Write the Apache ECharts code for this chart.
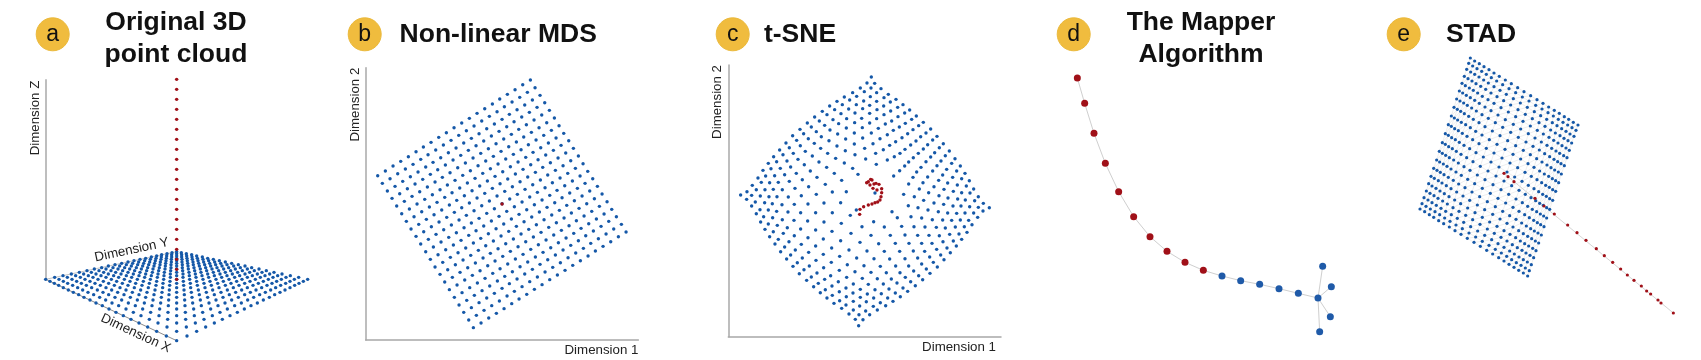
<!DOCTYPE html><html><head><meta charset="utf-8"><style>html,body{margin:0;background:#fff}#c{width:1701px;height:360px}</style>
<script src="https://cdn.jsdelivr.net/npm/echarts@6/dist/echarts.min.js"></script></head><body><div id="c"></div><script>
const aRowY=[755,758,761,764,768,771,775,778,782,786,790,794,798,803,807,812,817,822,827,832,838,844,850,856,863,870,877,884,892,900,909,917,927,937,947,958,969,981,994,1008,1022];
const aRowX=[[530],[516,544],[501,530,559],[485,515,545,575],[470,500,530,560,590],
[454,484,515,545,576,607],[437,468,499,530,561,592,623],[420,451,483,514,546,577,609,640],[402,434,466,498,530,562,594,626,658],
[384,416,449,481,514,546,579,611,644,676],[365,398,431,464,497,530,563,596,629,662,695],[345,379,413,446,480,513,547,580,614,647,681,715],
[325,359,394,428,462,496,530,564,598,632,666,701,735],[305,339,374,409,443,478,513,547,582,617,651,686,721,755],
[283,318,354,389,424,459,495,530,565,601,636,671,706,742,777],[261,297,333,368,404,440,476,512,548,584,620,656,692,727,763,799],
[238,274,311,347,384,420,457,493,530,567,603,640,676,713,749,786,822],[214,251,288,325,363,400,437,474,511,549,586,623,660,697,735,772,809,846],
[189,227,265,303,341,379,417,454,492,530,568,606,643,681,719,757,795,833,871],[164,202,241,279,318,356,395,434,472,511,549,588,626,665,704,742,781,819,858,896],
[137,177,216,255,294,334,373,412,451,491,530,569,609,648,687,726,766,805,844,883,923],[150,190,230,270,310,350,390,430,470,510,550,590,630,670,710,750,790,830,870,910],
[163,203,244,285,326,367,407,448,489,530,571,612,653,693,734,775,816,857,897],[176,218,259,301,343,384,426,468,509,551,592,634,676,717,759,801,842,884],
[190,233,275,318,360,403,445,488,530,572,615,657,700,742,785,827,870],[205,248,292,335,378,422,465,508,552,595,638,682,725,768,812,855],
[220,264,309,353,397,441,486,530,574,619,663,707,751,796,840],[236,281,326,372,417,462,507,553,598,643,688,734,779,824],
[252,299,345,391,437,484,530,576,623,669,715,761,808],[270,317,365,412,459,506,554,601,648,695,743,790],
[288,336,385,433,482,530,578,627,675,724,772],[307,356,406,456,505,555,604,654,704,753],[327,378,428,479,530,581,632,682,733],
[348,400,452,504,556,608,660,712],[370,423,477,530,583,637,690],[393,448,503,557,612,667],[417,474,530,586,643],[443,501,559,617],[470,530,590],[499,561],[530]];
const aRedY=[238,268,298,328,358,388,418,448,478,508,538,568,598,628,658,688,718,748,778,808,838];
const bX=[[36,59,82,105,128,151,173,196,219,242,265,288,311,334,357,380,402,425,448,471,494],
[50,73,96,119,142,165,187,210,233,256,279,302,325,348,371,394,416,439,462,485,508],
[65,88,111,134,157,180,202,225,248,271,294,317,340,363,386,409,431,454,477,500,523],
[79,102,125,148,171,194,216,239,262,285,308,331,354,377,400,423,445,468,491,514,537],
[93,116,139,162,185,208,230,253,276,299,322,345,368,391,414,437,459,482,505,528,551],
[108,131,154,177,200,223,245,268,291,314,337,360,383,406,429,452,474,497,520,543,566],
[122,145,168,191,214,237,259,282,305,328,351,374,397,420,443,466,488,511,534,557,580],
[136,159,182,205,228,251,273,296,319,342,365,388,411,434,457,480,502,525,548,571,594],
[151,174,197,220,243,266,288,311,334,357,380,403,426,449,472,495,517,540,563,586,609],
[165,188,211,234,257,280,302,325,348,371,394,417,440,463,486,509,531,554,577,600,623],
[180,203,226,249,272,295,317,340,363,386,409,432,455,478,501,524,546,569,592,615,638],
[194,217,240,263,286,309,331,354,377,400,423,446,469,492,515,538,560,583,606,629,652],
[208,231,254,277,300,323,345,368,391,414,437,460,483,506,529,552,574,597,620,643,666],
[223,246,269,292,315,338,360,383,406,429,452,475,498,521,544,567,589,612,635,658,681],
[237,260,283,306,329,352,374,397,420,443,466,489,512,535,558,581,603,626,649,672,695],
[251,274,297,320,343,366,388,411,434,457,480,503,526,549,572,595,617,640,663,686,709],
[266,289,312,335,358,381,403,426,449,472,495,518,541,564,587,610,632,655,678,701,724],
[280,303,326,349,372,395,417,440,463,486,509,532,555,578,601,624,646,669,692,715,738],
[294,317,340,363,386,409,431,454,477,500,523,546,569,592,615,638,660,683,706,729,752],
[309,332,355,378,401,424,446,469,492,515,538,561,584,607,630,653,675,698,721,744,767],
[323,346,369,392,415,438,460,483,506,529,552,575,598,621,644,667,689,712,735,758,781]];
const bY=[[493,507,522,536,550,565,579,593,608,622,637,651,665,680,694,708,723,737,751,766,780],
[470,484,499,513,527,542,556,570,585,599,614,628,642,657,671,685,700,714,728,743,757],
[447,461,476,490,504,519,533,547,562,576,591,605,619,634,648,662,677,691,705,720,734],
[425,439,454,468,482,497,511,525,540,554,569,583,597,612,626,640,655,669,683,698,712],
[402,416,431,445,459,474,488,502,517,531,546,560,574,589,603,617,632,646,660,675,689],
[379,393,408,422,436,451,465,479,494,508,523,537,551,566,580,594,609,623,637,652,666],
[356,370,385,399,413,428,442,456,471,485,500,514,528,543,557,571,586,600,614,629,643],
[333,347,362,376,390,405,419,433,448,462,477,491,505,520,534,548,563,577,591,606,620],
[311,325,340,354,368,383,397,411,426,440,455,469,483,498,512,526,541,555,569,584,598],
[288,302,317,331,345,360,374,388,403,417,432,446,460,475,489,503,518,532,546,561,575],
[265,279,294,308,322,337,351,365,380,394,409,423,437,452,466,480,495,509,523,538,552],
[242,256,271,285,299,314,328,342,357,371,386,400,414,429,443,457,472,486,500,515,529],
[219,233,248,262,276,291,305,319,334,348,363,377,391,406,420,434,449,463,477,492,506],
[197,211,226,240,254,269,283,297,312,326,341,355,369,384,398,412,427,441,455,470,484],
[174,188,203,217,231,246,260,274,289,303,318,332,346,361,375,389,404,418,432,447,461],
[151,165,180,194,208,223,237,251,266,280,295,309,323,338,352,366,381,395,409,424,438],
[128,142,157,171,185,200,214,228,243,257,272,286,300,315,329,343,358,372,386,401,415],
[105,119,134,148,162,177,191,205,220,234,249,263,277,292,306,320,335,349,363,378,392],
[83,97,112,126,140,155,169,183,198,212,227,241,255,270,284,298,313,327,341,356,370],
[60,74,89,103,117,132,146,160,175,189,204,218,232,247,261,275,290,304,318,333,347],
[37,51,66,80,94,109,123,137,152,166,181,195,209,224,238,252,267,281,295,310,324]];
const bRed=[[409,408]];
const cX=[[122,141,157,174,189,205,221,239,258,278,300,322,344,367,389,411,433,458,481,501,514],
[140,155,169,184,197,213,230,249,268,290,311,334,358,381,404,427,449,470,493,513,524],
[155,166,181,195,209,224,241,261,280,301,325,349,374,399,423,446,469,491,511,530,543],
[169,180,194,207,220,235,254,272,294,316,343,364,390,416,440,465,488,509,530,552,565],
[182,191,205,217,231,247,268,289,313,337,362,387,413,439,464,485,509,531,551,571,588],
[195,205,218,230,246,265,285,307,331,357,383,411,437,463,487,509,530,552,572,593,609],
[209,220,232,247,264,283,304,326,351,380,407,436,463,488,514,535,556,575,594,614,629],
[225,235,250,262,282,302,324,349,376,403,433,465,494,519,540,562,580,598,616,635,649],
[242,254,267,283,302,323,347,372,397,425,458,497,527,550,569,587,606,623,639,656,670],
[260,272,286,304,324,347,372,397,422,439,474,529,562,583,600,615,632,648,662,678,692],
[279,292,307,326,347,370,396,424,451,469,525,581,599,614,626,640,655,670,683,698,711],
[298,312,328,348,370,395,422,453,486,521,576,611,626,639,650,663,678,692,704,718,730],
[320,334,351,371,394,419,447,480,513,553,592,625,643,658,669,683,698,711,723,736,748],
[341,355,374,392,418,442,470,501,536,571,605,633,654,671,686,702,716,728,740,755,765],
[361,376,396,415,440,465,492,522,553,586,615,642,665,684,702,717,732,743,758,770,781],
[381,397,418,438,460,487,513,541,569,599,627,653,675,697,715,731,744,760,772,785,795],
[402,419,439,459,481,505,532,559,587,615,640,665,687,709,728,743,759,773,785,799,808],
[425,438,460,481,502,525,550,574,600,626,653,674,696,718,736,755,770,783,796,810,821],
[447,460,479,499,521,544,567,591,616,641,665,689,710,729,749,766,781,795,809,824,835],
[466,477,497,520,541,563,586,609,632,656,679,700,722,741,760,777,793,806,821,835,850],
[476,489,509,532,557,579,601,623,646,668,690,712,732,751,769,785,801,816,833,849,868]];
const cY=[[585,575,556,534,511,490,470,450,429,407,388,369,351,334,318,304,291,278,264,249,231],
[598,586,569,547,528,506,485,464,443,421,401,381,363,344,329,314,300,289,275,264,250],
[618,606,588,569,548,527,505,483,460,437,416,395,376,359,341,327,314,303,290,278,266],
[641,629,608,590,568,547,524,501,478,454,430,410,390,371,356,339,326,316,304,293,283],
[666,650,630,611,590,569,544,520,494,468,445,422,402,384,368,355,340,329,318,306,298],
[688,672,653,634,614,591,565,539,513,486,460,438,417,399,383,369,356,344,333,322,314],
[710,695,676,659,636,613,587,560,532,502,475,452,432,414,399,385,372,363,350,339,330],
[732,718,700,683,661,638,612,583,553,520,489,464,445,431,416,404,391,381,370,358,348],
[755,741,725,707,687,663,638,609,576,541,505,477,460,449,436,425,413,401,389,377,367],
[777,765,750,733,713,690,666,638,608,575,523,493,480,470,460,448,435,423,410,399,387],
[799,788,774,757,738,717,694,670,646,630,579,528,512,498,486,473,460,447,434,420,409],
[821,809,798,781,763,744,722,700,680,665,635,583,552,532,516,502,485,471,458,443,431],
[841,831,819,803,787,769,750,727,706,681,653,617,590,567,548,531,513,497,483,467,453],
[860,850,838,827,811,794,774,753,731,706,679,650,623,601,578,560,541,525,508,490,476],
[878,869,858,845,832,815,797,776,754,730,705,680,654,630,609,587,568,549,532,513,498],
[894,886,875,864,852,835,817,799,777,754,730,706,681,659,635,613,594,574,555,536,520],
[910,902,890,879,868,853,836,818,798,776,753,730,706,682,660,639,618,597,578,558,542],
[925,915,904,892,882,869,852,837,818,798,774,754,730,707,684,661,640,618,600,579,567],
[942,930,918,905,894,881,867,849,832,813,792,771,748,725,703,681,660,639,620,602,590],
[958,944,933,919,908,894,879,864,845,827,807,787,765,744,723,702,680,661,639,622,610],
[977,959,944,930,917,904,890,874,857,839,820,801,779,758,738,718,697,674,652,633,623]];
const cRed=[[479,643],[480,628],[491,620],[505,615],[516,612],[525,608],[533,606],[540,600],[543,590],[545,578],[545,566],[537,553],[531,570],[528,550],[519,565],[522,552],[512,538],[505,545],[500,548],[510,555],[516,540]];
const dRed=[[112,234],[134,310],[162,400],[196,490],[236,575],[281,650],[330,710],[381,754],[435,787],[490,811]];
const dBlue=[[546,828],[602,842],[659,853],[717,866],[775,880],[834,894]];
const dLeaves=[[848,799],[874,860],[871,950],[839,995]];
const eX=[[150,164,178,191,206,221,238,255,273,292,312,331,350,368,386,402,417,432,446,460,473],
[156,168,181,195,209,224,240,258,277,297,317,337,357,376,394,410,425,439,453,466,478],
[162,174,186,199,213,227,244,262,281,302,323,344,365,384,402,419,433,447,460,472,484],
[169,180,192,204,218,232,249,267,287,308,330,352,373,393,411,427,442,456,468,480,491],
[176,186,198,210,223,237,254,272,293,315,337,359,381,402,420,437,451,464,476,488,498],
[183,193,205,216,229,243,260,279,299,322,344,368,390,411,429,446,460,473,485,496,506],
[191,201,211,222,235,250,266,285,306,329,352,376,398,419,438,455,469,482,493,504,514],
[200,209,220,231,243,258,274,293,314,337,361,384,407,429,447,464,478,491,502,512,522],
[208,217,227,238,251,265,282,300,322,345,369,393,416,438,457,473,487,500,511,521,530],
[217,226,236,247,259,273,290,309,331,354,378,402,425,447,466,483,497,509,520,530,539],
[226,235,245,256,268,282,299,318,340,363,387,411,434,456,475,492,506,518,529,539,548],
[235,244,254,265,277,291,308,327,349,372,396,420,443,465,484,501,515,527,538,548,557],
[244,253,263,274,287,301,317,336,358,381,405,429,452,474,492,509,523,536,547,557,566],
[252,262,272,283,296,310,327,345,367,390,413,437,460,481,500,516,531,543,554,565,574],
[260,270,281,292,305,319,336,355,376,398,422,445,468,489,508,524,539,552,563,573,583],
[268,278,289,301,314,328,345,363,384,406,430,452,475,495,514,531,545,558,569,581,591],
[276,286,298,310,323,337,354,372,393,415,437,459,481,502,520,537,551,564,576,588,598],
[283,294,306,318,332,347,363,381,401,422,444,466,487,507,525,542,556,570,582,594,605],
[290,302,314,327,341,355,372,390,409,430,451,472,493,512,530,547,561,575,588,600,612],
[296,308,321,335,349,364,380,398,417,437,457,477,497,516,534,550,565,579,593,606,618],
[301,314,328,342,357,372,388,406,424,443,462,482,501,519,536,553,568,583,596,610,624]];
const eY=[[627,635,644,652,662,671,681,692,703,715,727,739,751,762,773,783,793,802,811,819,828],
[611,619,627,635,644,654,664,675,686,699,711,724,736,748,759,769,779,788,796,804,812],
[593,600,608,616,625,634,644,655,667,680,693,706,719,731,742,753,762,771,779,786,794],
[573,580,587,595,603,612,623,634,646,659,673,687,700,712,723,734,743,751,759,766,773],
[551,558,565,573,581,590,600,611,624,638,652,666,679,692,703,713,723,731,738,745,752],
[529,535,542,549,557,566,576,588,601,615,629,643,657,670,681,692,701,709,716,723,729],
[505,511,517,524,532,541,552,563,576,590,605,620,634,647,658,669,678,686,693,699,705],
[480,486,492,499,507,516,526,538,551,565,580,595,609,622,634,644,653,661,668,674,680],
[454,460,466,473,480,489,500,511,525,539,554,569,583,597,608,619,628,635,642,648,654],
[428,433,440,446,454,463,473,485,499,513,528,543,557,571,583,593,602,610,616,623,628],
[401,406,413,419,427,436,446,458,471,486,501,516,531,544,556,566,575,583,589,596,601],
[374,379,386,392,400,409,419,431,445,459,474,489,503,517,529,539,548,556,562,569,574],
[348,354,360,367,374,383,394,405,419,433,448,463,477,491,502,513,522,529,536,542,548],
[322,328,334,341,349,358,368,380,393,407,422,437,451,464,476,486,495,503,510,516,522],
[297,303,309,316,324,333,344,355,368,382,397,412,426,439,450,461,470,478,485,491,497],
[273,279,286,293,301,310,321,332,345,359,373,387,401,414,426,436,445,453,460,467,473],
[250,257,264,271,279,289,299,310,323,336,350,364,378,391,402,412,421,429,437,444,451],
[229,236,243,251,259,268,279,290,302,315,329,343,356,368,379,390,399,407,415,422,429],
[208,216,223,231,240,249,260,271,283,296,309,322,335,347,358,368,377,386,394,402,409],
[190,198,206,214,223,233,243,254,266,278,291,303,316,327,338,348,358,367,375,383,391],
[174,183,191,200,209,219,229,240,251,263,275,287,299,310,321,331,340,350,358,367,375]];
const eRed=[[402,520],[414,530],[432,545],[495,595],[522,618],[553,642],[593,675],[621,698],[648,721],[679,746],[703,767],[728,787],[752,807],[772,825],[792,841],[814,858],[830,873],[842,882],[864,900],[873,909],[910,939]];
const pairs=(X,Y)=>X.flatMap((r,i)=>r.map((x,j)=>[x,Y[i][j]]));
const BLUE='#1558a8',RED='#a01018',GOLD='#f0bc3e',TXT='#222';
const F='"Liberation Sans",Arial,sans-serif';
const aBlue=aRowX.flatMap((r,i)=>r.map(x=>[x,aRowY[i]]));
const aRed=aRedY.map(y=>[530,y]);
const eLinks=[];
eX.forEach((r,i)=>r.forEach((x,j)=>{
 const p=[x,eY[i][j]];
 if(j+1<r.length)eLinks.push({coords:[p,[r[j+1],eY[i][j+1]]]});
 if(i+1<eX.length){eLinks.push({coords:[p,[eX[i+1][j],eY[i+1][j]]]});
  if(j+1<r.length)eLinks.push({coords:[p,[eX[i+1][j+1],eY[i+1][j+1]]]});}
}));
const chain=dRed.concat(dBlue);
const hub=dBlue[dBlue.length-1];
const dLinks=chain.slice(1).map((p,i)=>({coords:[chain[i],p]})).concat(dLeaves.map(p=>({coords:[hub,p]})));
const eChain=[{coords:[eRed[0],eRed[eRed.length-1]]}];
const hidden=(o)=>Object.assign({type:'value',show:false,scale:false},o);
const axisStyle={lineStyle:{color:'#a8a8a8',width:1.5}};
const nameStyle={color:TXT,fontSize:13.3,fontFamily:F};
const scat=(g,data,color,size)=>({type:'scatter',xAxisIndex:g,yAxisIndex:g,data,symbolSize:size,itemStyle:{color,opacity:1},silent:true,z:3});
const line=(g,coords,color,w,op)=>({type:'lines',coordinateSystem:'cartesian2d',xAxisIndex:g,yAxisIndex:g,data:coords,lineStyle:{color,width:w,opacity:op,curveness:0},silent:true,z:2});
const head=(text,left,top)=>({text,left,top,textAlign:'center',textStyle:{fontFamily:F,fontSize:26.5,fontWeight:'bold',color:'#111',lineHeight:32},padding:0});
const badge=(l,cx)=>[{type:'circle',shape:{cx,cy:34.3,r:16.5},style:{fill:GOLD,stroke:'#ebb93a',lineWidth:1},silent:true},
 {type:'text',x:cx,y:34.3,style:{text:l,fill:'#111',fontFamily:F,fontSize:23,align:'center',verticalAlign:'middle'},silent:true}];
const free=(text,x,y,rot)=>({type:'text',x,y,rotation:rot*Math.PI/180,style:{text,fill:TXT,fontFamily:F,fontSize:13.3,align:'center',verticalAlign:'middle'},silent:true});
const valAxis=(min,max,inv,extra)=>Object.assign({type:'value',min,max,inverse:!!inv,axisLine:Object.assign({show:true,onZero:false},axisStyle),axisTick:{show:false},axisLabel:{show:false},splitLine:{show:false}},extra);
const xName=(pr)=>({name:'Dimension 1',nameLocation:'end',nameGap:0,nameTextStyle:Object.assign({align:'right',verticalAlign:'top',padding:[4,pr,0,0]},nameStyle)});
const yName=(loc)=>({name:'Dimension 2',nameLocation:loc,nameGap:0,nameRotate:90,nameTextStyle:Object.assign({align:'right',verticalAlign:'bottom',padding:[0,0,4,0]},nameStyle)});
const G=(o)=>Object.assign({outerBoundsMode:'none'},o);
const chart=echarts.init(document.getElementById('c'),null,{renderer:'canvas'});
chart.setOption({animation:false,backgroundColor:'#fff',
 title:[head('Original 3D\npoint cloud',176,7),head('Non-linear MDS',498.2,19),head('t-SNE',800,19),head('The Mapper\nAlgorithm',1201,7),head('STAD',1481,19)],
 graphic:[...badge('a',52.7),...badge('b',364.7),...badge('c',732.7),...badge('d',1073.7),...badge('e',1403.7),
  free('Dimension Z',35,118,90),free('Dimension Y',131.7,250,12),free('Dimension X',135.7,333.3,-25)],
 grid:[G({left:0,top:0,width:340,height:360}),G({left:365.7,top:67.7,width:272.7,height:272.3}),G({left:728.3,top:65,width:272.7,height:271.7}),G({left:1040,top:0,width:340,height:360}),G({left:1370,top:0,width:331,height:360})],
 xAxis:[hidden({gridIndex:0,min:0,max:1020}),valAxis(0,818,false,Object.assign({gridIndex:1},xName(0))),valAxis(85,903,false,Object.assign({gridIndex:2},xName(5))),hidden({gridIndex:3,min:0,max:1020}),hidden({gridIndex:4,min:0,max:993})],
 yAxis:[hidden({gridIndex:0,min:0,max:1080,inverse:true}),valAxis(0,817,false,Object.assign({gridIndex:1},yName('end'))),valAxis(195,1010,true,Object.assign({gridIndex:2},yName('start'))),hidden({gridIndex:3,min:0,max:1080,inverse:true}),hidden({gridIndex:4,min:0,max:1080,inverse:true})],
 series:[
  line(0,[{coords:[[137,238],[137,838]]}],'#a8a8a8',1.5,1),
  line(0,[{coords:[[137,838],[530,1022]]}],'#8c8c8c',1,1),
  line(0,[{coords:[[137,838],[530,755]]}],'#c4c4c4',1,1),
  scat(0,aBlue,BLUE,3.4),scat(0,aRed,RED,3.4),
  scat(1,pairs(bX,bY),BLUE,3.4),scat(1,bRed,RED,3.4),
  scat(2,pairs(cX,cY),BLUE,3.4),scat(2,cRed,RED,3.4),
  line(3,dLinks,'#cfcfcf',1,1),scat(3,dRed,RED,7),scat(3,dBlue.concat(dLeaves),'#1f5aa8',7),
  line(4,eLinks,'#cfcfcf',.5,.7),line(4,eChain,'#d5d5d5',1,1),scat(4,pairs(eX,eY),BLUE,3.2),scat(4,eRed,RED,3.2)
 ]});
</script></body></html>
